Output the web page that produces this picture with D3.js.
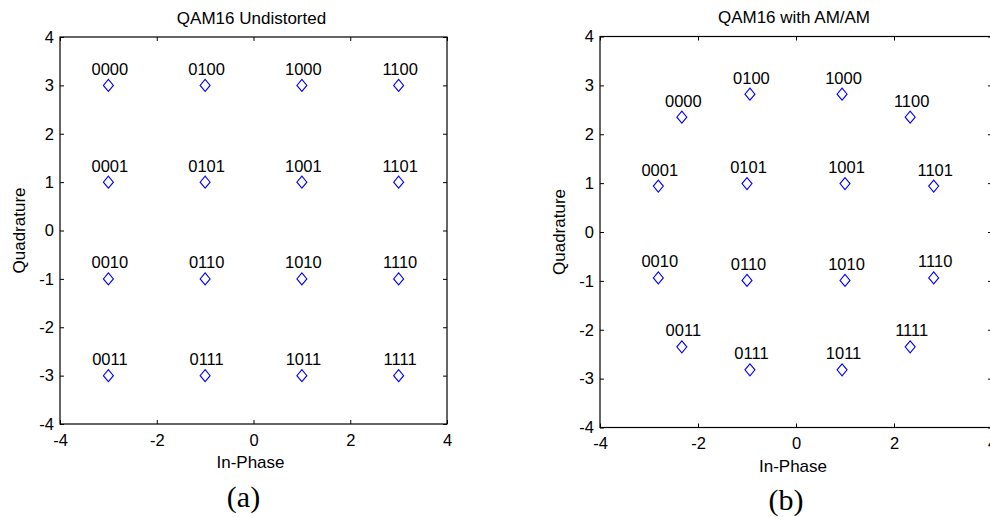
<!DOCTYPE html>
<html>
<head>
<meta charset="utf-8">
<script src="https://cdn.jsdelivr.net/npm/d3@7"></script>
<style>
  html, body { margin: 0; padding: 0; background: #fff; overflow: hidden; }
  svg { display: block; }
  text { font-family: "Liberation Sans", Arial, sans-serif; fill: #000; }
</style>
</head>
<body>
<svg id="chart" width="990" height="517"></svg>
<script>
// ---- data ----
const symbolLabels = ["0000","0100","1000","1100","0001","0101","1001","1101",
                      "0010","0110","1010","1110","0011","0111","1011","1111"];
const undistortedI = [-3,-1,1,3, -3,-1,1,3, -3,-1,1,3, -3,-1,1,3];
const undistortedQ = [3,3,3,3, 1,1,1,1, -1,-1,-1,-1, -3,-3,-3,-3];
const amamI = [-2.33,-0.94,0.94,2.33, -2.81,-1.0,1.0,2.81, -2.81,-1.0,1.0,2.81, -2.33,-0.94,0.94,2.33];
const amamQ = [2.35,2.82,2.82,2.35, 0.94,0.99,0.99,0.94, -0.94,-0.99,-0.99,-0.94, -2.35,-2.82,-2.82,-2.35];
const xTickLabels = [-4,-2,0,2,4];
const yTickLabels = [-4,-3,-2,-1,0,1,2,3,4];
const titles = ["QAM16 Undistorted", "QAM16 with AM/AM"];
const captions = ["(a)", "(b)"];
const xLabel = "In-Phase";
const yLabel = "Quadrature";

const svg = d3.select("#chart");

const panels = [
  { I: undistortedI, Q: undistortedQ, title: titles[0], caption: captions[0],
    left: 60, right: 447, top: 37, bottom: 424, titleY: 24, xLabY: 468, yLabX: 25, capY: 507 },
  { I: amamI, Q: amamQ, title: titles[1], caption: captions[1],
    left: 600, right: 992, top: 36.5, bottom: 427.5, titleY: 23, xLabY: 472, yLabX: 565, capY: 510 }
];

const fmt = d => String(d);  // plain hyphen-minus like MATLAB

panels.forEach(p => {
  const x = d3.scaleLinear().domain([-4, 4]).range([p.left, p.right]);
  const y = d3.scaleLinear().domain([-4, 4]).range([p.bottom, p.top]);
  const g = svg.append("g");
  const fs = "16.5px";

  const ax = g.append("g").attr("transform", `translate(0,${p.bottom})`)
    .call(d3.axisBottom(x).tickValues(xTickLabels).tickSizeInner(-4).tickSizeOuter(0).tickPadding(10).tickFormat(fmt));
  const ay = g.append("g").attr("transform", `translate(${p.left},0)`)
    .call(d3.axisLeft(y).tickValues(yTickLabels).tickSizeInner(-4).tickSizeOuter(0).tickPadding(6).tickFormat(fmt));
  const at = g.append("g").attr("transform", `translate(0,${p.top})`)
    .call(d3.axisTop(x).tickValues(xTickLabels).tickSizeInner(-4).tickSizeOuter(0).tickFormat(""));
  const ar = g.append("g").attr("transform", `translate(${p.right},0)`)
    .call(d3.axisRight(y).tickValues(yTickLabels).tickSizeInner(-4).tickSizeOuter(0).tickFormat(""));
  [ax, ay, at, ar].forEach(a => {
    a.select(".domain").remove();
    a.selectAll("line").attr("stroke", "#000").attr("stroke-width", 1);
    a.selectAll("text").style("font-family", "Liberation Sans, Arial, sans-serif")
      .style("font-size", fs).attr("fill", "#000");
  });

  g.append("rect")
    .attr("x", p.left).attr("y", p.top)
    .attr("width", p.right - p.left).attr("height", p.bottom - p.top)
    .attr("fill", "none").attr("stroke", "#000").attr("stroke-width", 1.2);

  const pts = symbolLabels.map((lab, i) => ({ lab, i: p.I[i], q: p.Q[i] }));
  const diamond = (cx, cy) => `M${cx},${cy-6}L${cx+5},${cy}L${cx},${cy+6}L${cx-5},${cy}Z`;
  g.selectAll("path.pt").data(pts).join("path")
    .attr("class", "pt")
    .attr("d", d => diamond(x(d.i), y(d.q)))
    .attr("fill", "none").attr("stroke", "#0000ff").attr("stroke-width", 1.1);

  g.selectAll("text.lab").data(pts).join("text")
    .attr("class", "lab")
    .attr("x", d => x(d.i) + 1.5)
    .attr("y", d => y(d.q) - 10.5)
    .attr("text-anchor", "middle")
    .style("font-size", fs)
    .text(d => d.lab);

  g.append("text").attr("x", (p.left + p.right) / 2 - 2).attr("y", p.titleY)
    .attr("text-anchor", "middle").style("font-size", "17px").text(p.title);
  g.append("text").attr("x", (p.left + p.right) / 2 - 3).attr("y", p.xLabY)
    .attr("text-anchor", "middle").style("font-size", "17px").text(xLabel);
  g.append("text").attr("transform", `translate(${p.yLabX},${(p.top + p.bottom) / 2}) rotate(-90)`)
    .attr("text-anchor", "middle").style("font-size", "17px").text(yLabel);
  g.append("text").attr("x", (p.left + p.right) / 2 - 10).attr("y", p.capY)
    .attr("text-anchor", "middle")
    .style("font-family", "Liberation Serif, 'Times New Roman', serif")
    .style("font-size", "30px").text(p.caption);
});
</script>
</body>
</html>
